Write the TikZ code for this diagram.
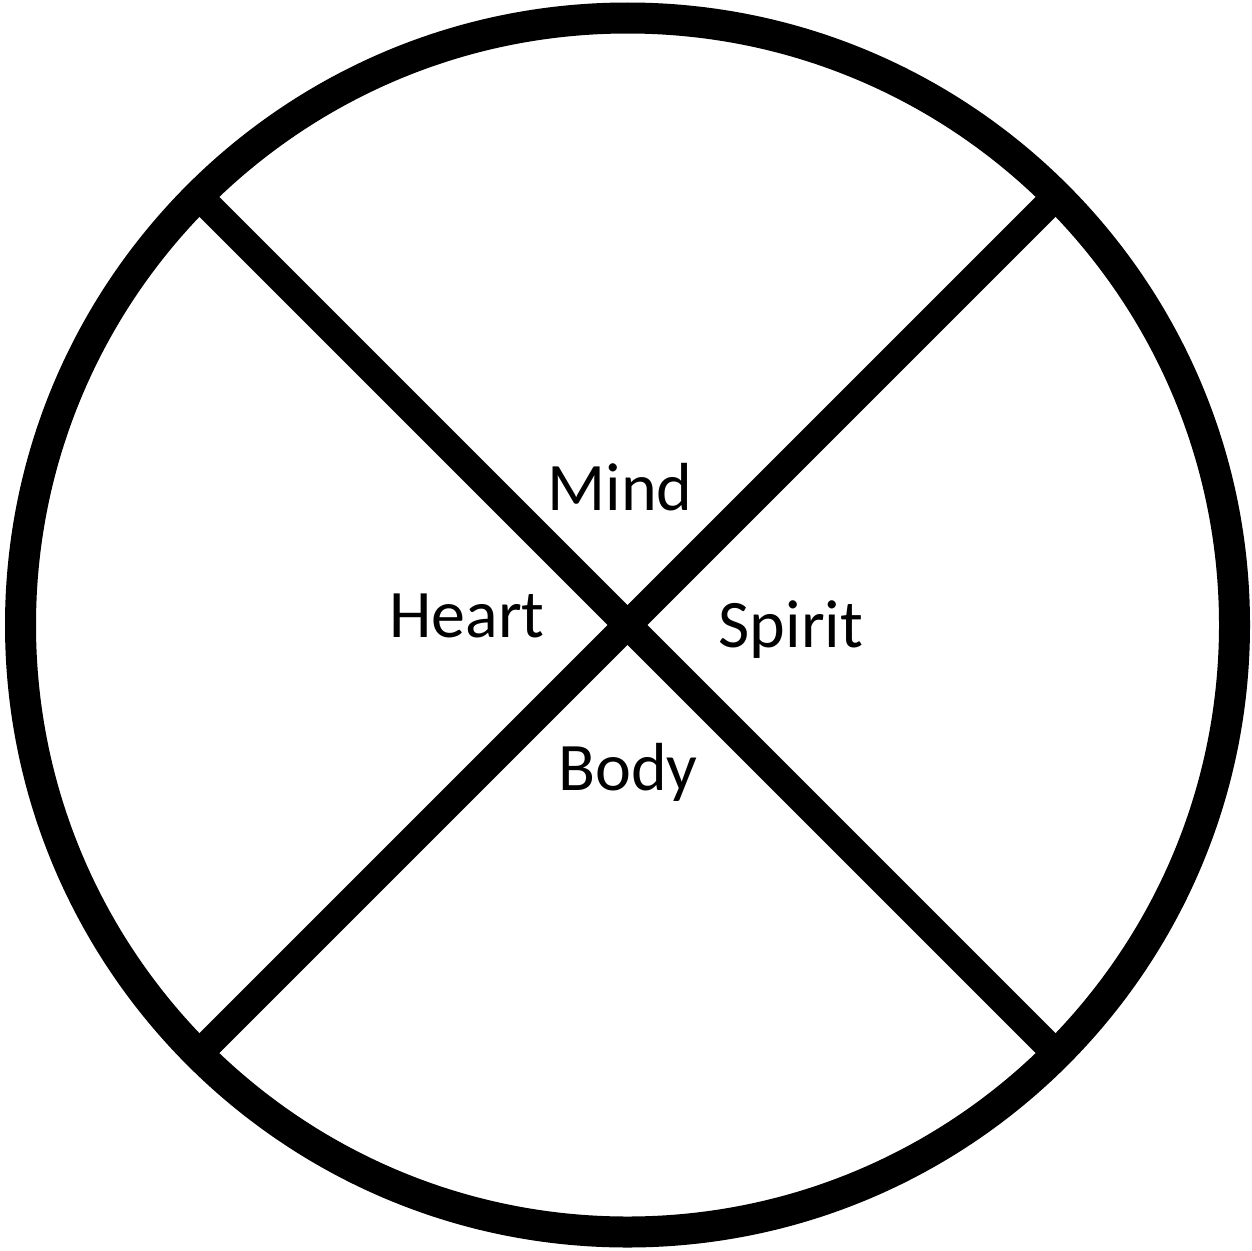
\documentclass[tikz,border=0pt]{standalone}
\usepackage{fontspec}
\setmainfont{Carlito}
\begin{document}
\begin{tikzpicture}[x=1pt,y=-1pt,
  ring/.style={draw=black,circle,line width=31pt,minimum size=1214pt,inner sep=0pt,outer sep=0pt},
  bar/.style={draw=black,line width=28pt,line cap=butt},
  lbl/.style={font=\fontsize{68}{80}\selectfont,anchor=base,inner sep=0pt,text=black}]
\useasboundingbox (0,0) rectangle (1252,1250);
\fill[white] (0,0) rectangle (1252,1250);
\node[ring] (c) at (627.5,625) {};
\draw[bar] (c.135) -- (c.-45);
\draw[bar] (c.45) -- (c.-135);
\node[lbl] (mind) at (620,510) {Mind};
\node[lbl] (heart) at (467,637) {Heart};
\node[lbl] (spirit) at (791,647) {Spirit};
\node[lbl] (body) at (628,790) {Body};
\end{tikzpicture}
\end{document}
